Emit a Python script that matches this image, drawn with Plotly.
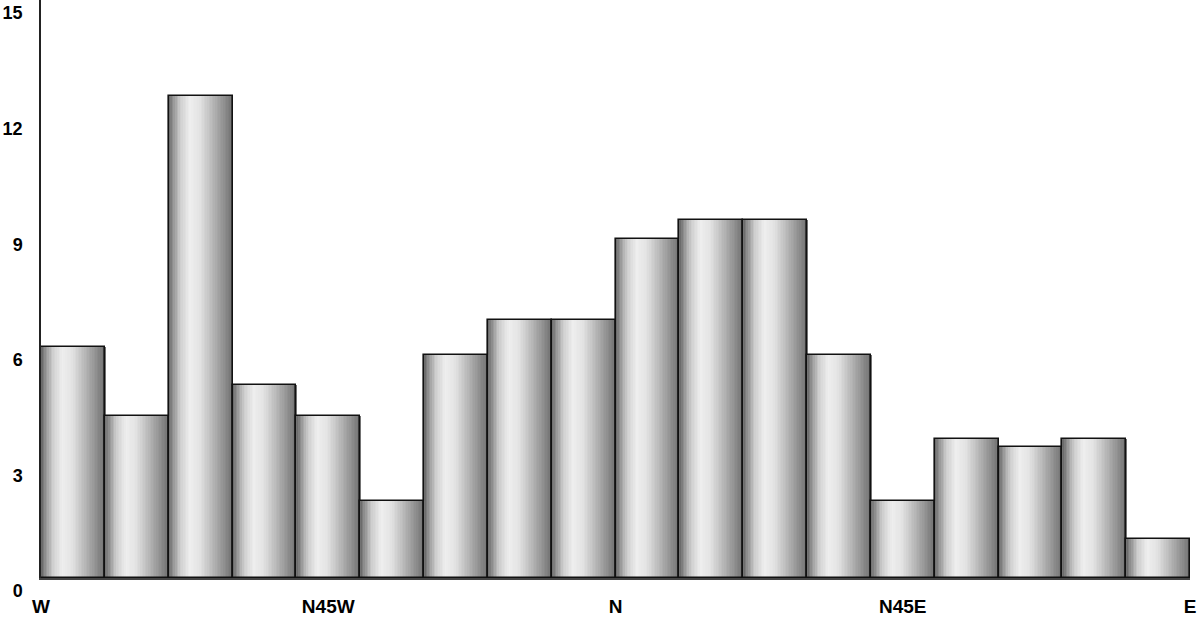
import numpy as np
import plotly.graph_objects as go

# Data: bins of strike direction (degrees, -90 = W, 0 = N, 90 = E)
bin_centers = [-85, -75, -65, -55, -45, -35, -25, -15, -5, 5, 15, 25, 35, 45, 55, 65, 75, 85]
values = [6.0, 4.2, 12.5, 5.0, 4.2, 2.0, 5.8, 6.7, 6.7, 8.8, 9.3, 9.3, 5.8, 2.0, 3.6, 3.4, 3.6, 1.0]
x_tick_vals = [-90, -45, 0, 45, 90]
x_tick_text = ["W", "N45W", "N", "N45E", "E"]
y_tick_vals = [0, 3, 6, 9, 12, 15]

BIN_W = 10
N_SLICES = 40

# gradient stops (position across bar, gray level)
stops_t = [0.0, 0.06, 0.18, 0.33, 0.48, 0.68, 0.88, 1.0]
stops_g = [100, 140, 205, 238, 228, 185, 140, 112]

fig = go.Figure()
sw = BIN_W / N_SLICES
for k in range(N_SLICES):
    t = (k + 0.5) / N_SLICES
    g = int(round(np.interp(t, stops_t, stops_g)))
    fig.add_trace(go.Bar(
        x=bin_centers, y=values,
        width=sw * 1.6, offset=-BIN_W / 2 + k * sw,
        marker=dict(color=f"rgb({g},{g},{g})", line=dict(width=0)),
        showlegend=False, hoverinfo="skip",
    ))
# outline
fig.add_trace(go.Bar(
    x=bin_centers, y=values, width=BIN_W, offset=-BIN_W / 2,
    marker=dict(color="rgba(0,0,0,0)", line=dict(color="#111111", width=1.6)),
    showlegend=False,
))

xfont = dict(family="Liberation Sans, Arial, sans-serif", size=19, color="#000000", weight="bold")
yfont = dict(family="Liberation Sans, Arial, sans-serif", size=18, color="#000000", weight="bold")

fig.update_layout(
    width=1200, height=617,
    margin=dict(l=41, r=10, t=0, b=39, autoexpand=False),
    plot_bgcolor="white", paper_bgcolor="white",
    barmode="overlay", bargap=0,
    xaxis=dict(
        range=[-90, 90], tickvals=x_tick_vals, ticktext=x_tick_text,
        showgrid=False, zeroline=False, showline=True, linecolor="#444444", linewidth=2,
        ticks="", tickfont=xfont, ticklabelstandoff=10, automargin=False,
    ),
    yaxis=dict(
        range=[0, 15], tickvals=y_tick_vals, showgrid=False, zeroline=False,
        showline=True, linecolor="#222222", linewidth=1.5, ticks="",
        tickfont=yfont, ticklabelstandoff=13, ticklabelshift=13, automargin=False,
    ),
)

# remove the browser's default page margin so the figure sits at the window's corner
fig.write_html("out.html", config={"displayModeBar": False},
               post_script="document.body.style.margin='0';")
